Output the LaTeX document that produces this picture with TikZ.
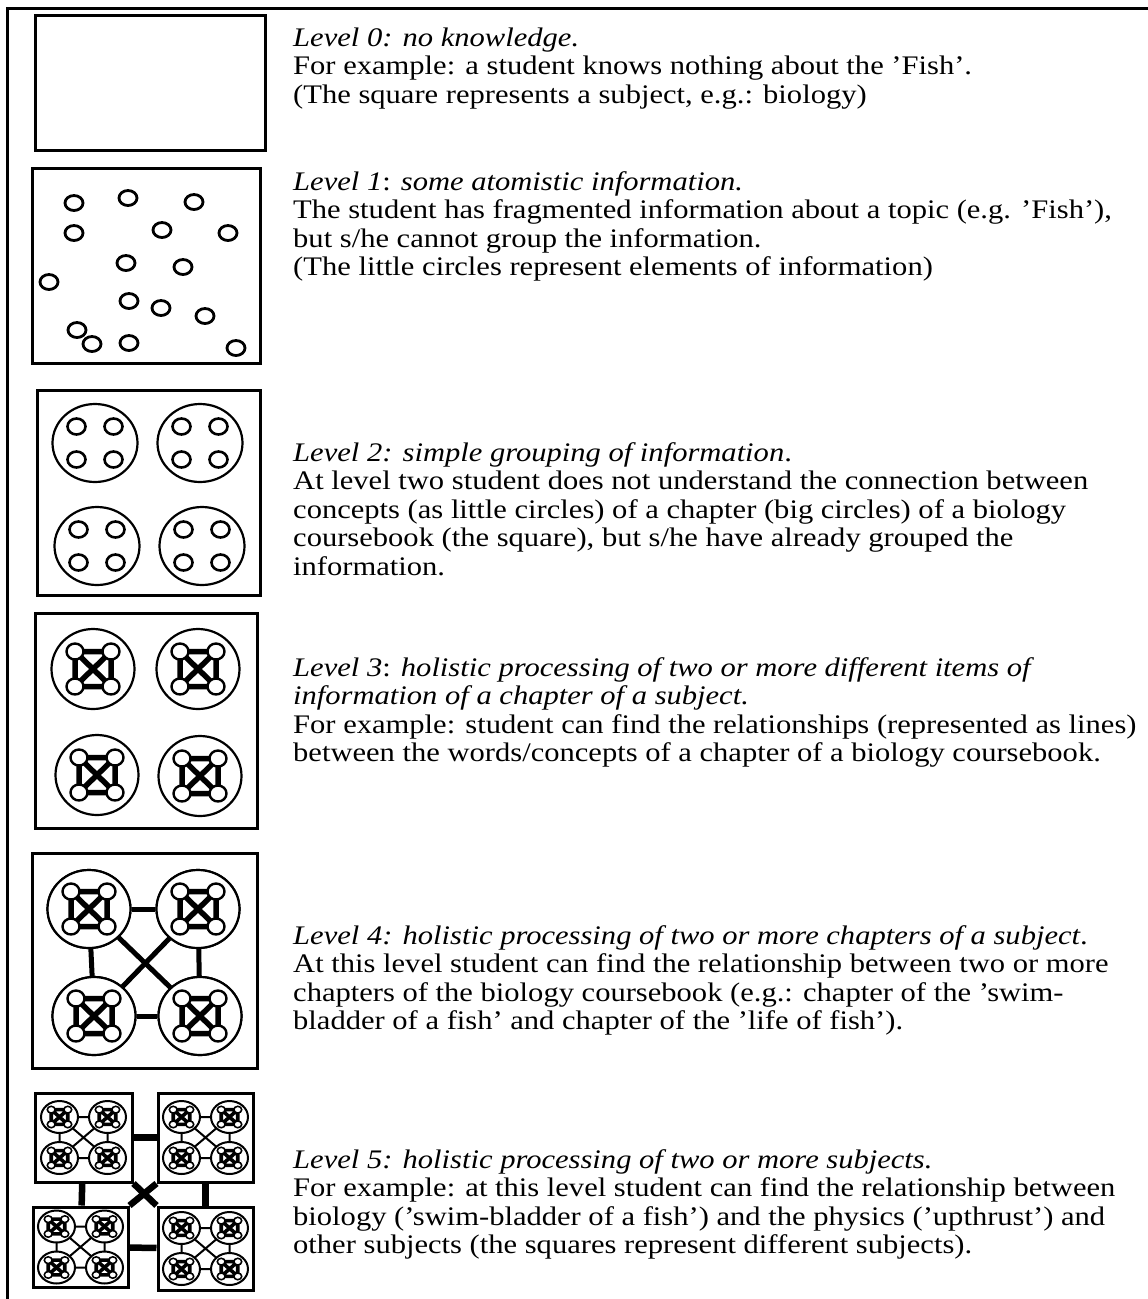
\documentclass[tikz,border=0pt]{standalone}
\usepackage{fontspec}
\setmainfont{Liberation Serif}[FakeStretch=1.14]
\usetikzlibrary{shapes.geometric}
\tikzset{
  frameline/.style={line width=3pt},
  boxline/.style={draw, line width=3pt},
  dot/.style={draw, line width=2.8pt},
  bigc/.style={ellipse, draw, line width=2.2pt, fill=white, inner sep=0pt},
  conn/.style={line width=5pt},
  subsq/.style={rectangle, draw, line width=3pt, fill=white, inner sep=0pt},
  bigconn/.style={line width=6.5pt},
  txt/.style={anchor=base west, inner sep=0pt, font=\fontsize{26.8}{28.5}\selectfont},
  pics/cell/.style={code={
    \draw[line width=#1*5.5pt] (-18,-17.5) rectangle (18,17.5)
      (-18,-17.5) -- (18,17.5) (18,-17.5) -- (-18,17.5);
    \foreach \p in {(-18,-17.5),(18,-17.5),(-18,17.5),(18,17.5)}
      \draw[fill=white, line width=#1*2.4pt] \p ellipse [x radius=8.5pt, y radius=8pt];
  }},
  pics/grp/.style={code={
    \foreach \p in {(-18.5,-16.5),(18.5,-16.5),(-18.5,16.5),(18.5,16.5)}
      \draw[line width=2.6pt] \p ellipse [x radius=9pt, y radius=8pt];
  }},
  pics/minicluster/.style={code={
    \draw[line width=2pt] (-24,-20.5) -- (24,-20.5) (-24,20.5) -- (24,20.5)
      (-24,-20.5) -- (-24,20.5) (24,-20.5) -- (24,20.5)
      (-24,-20.5) -- (24,20.5) (24,-20.5) -- (-24,20.5);
    \foreach \p in {(-24,-20.5),(24,-20.5),(-24,20.5),(24,20.5)} {
      \draw[fill=white, line width=2pt] \p ellipse [x radius=18.5pt, y radius=16pt];
      \pic[xscale=0.46, yscale=0.42] at \p {cell=0.65};
    }
  }}
}
\begin{document}
\begin{tikzpicture}[x=1pt,y=-1pt]
\useasboundingbox (0,0) rectangle (1148,1299);
\fill[white] (0,0) rectangle (1148,1299);
% frame
\draw[frameline] (7,1299) -- (7,8) -- (1148,8);

% ---------- Level 0
\draw[boxline] (35,15) rectangle (265,150);
\node[txt] (t0a) at (293,46) {\textit{Level 0: no knowledge.}};
\node[txt] (t0b) at (293,74.5) {For example: a student knows nothing about the ’Fish’.};
\node[txt] (t0c) at (293,103) {(The square represents a subject, e.g.: biology)};

% ---------- Level 1
\draw[boxline] (32,168) rectangle (260,363);
\foreach \p in {(74,203),(128,198),(194,202),(74,233),(162,230),(228,233),
  (126,263),(183,267),(49,282),(129,301),(161,308),(205,316),(77,330),(92,344),(129,343),(236,348)}
  \draw[dot] \p ellipse [x radius=9pt, y radius=7.5pt];
\node[txt] (t1a) at (293,190) {\textit{Level 1}: \textit{some atomistic information.}};
\node[txt] (t1b) at (293,218.5) {The student has fragmented information about a topic (e.g. ’Fish’),};
\node[txt] (t1c) at (293,247) {but s/he cannot group the information.};
\node[txt] (t1d) at (293,275.5) {(The little circles represent elements of information)};

% ---------- Level 2
\draw[boxline] (37,390) rectangle (260,595);
\foreach \n/\x/\y in {c21/95/443, c22/200/443, c23/97/546, c24/202/546} {
  \node[bigc, minimum width=85pt, minimum height=78pt] (\n) at (\x,\y) {};
  \pic at (\n) {grp};
}
\node[txt] (t2a) at (293,461) {\textit{Level 2: simple grouping of information}.};
\node[txt] (t2b) at (293,489.5) {At level two student does not understand the connection between};
\node[txt] (t2c) at (293,518) {concepts (as little circles) of a chapter (big circles) of a biology};
\node[txt] (t2d) at (293,546.5) {coursebook (the square), but s/he have already grouped the};
\node[txt] (t2e) at (293,575) {information.};

% ---------- Level 3
\draw[boxline] (35,613) rectangle (257,828);
\foreach \n/\x/\y in {c31/93/669, c32/198/669, c33/97/775, c34/200/776} {
  \node[bigc, minimum width=83pt, minimum height=80pt] (\n) at (\x,\y) {};
  \pic at (\n) {cell=1};
}
\node[txt] (t3a) at (293,676) {\textit{Level 3}: \textit{holistic processing of two or more different items of}};
\node[txt] (t3b) at (293,704.5) {\textit{information of a chapter of a subject.}};
\node[txt] (t3c) at (293,733) {For example: student can find the relationships (represented as lines)};
\node[txt] (t3d) at (293,761.5) {between the words/concepts of a chapter of a biology coursebook.};

% ---------- Level 4
\draw[boxline] (32,853) rectangle (257,1068);
\node[bigc, minimum width=83pt, minimum height=78pt] (c41) at (89,909) {};
\node[bigc, minimum width=83pt, minimum height=78pt] (c42) at (198,909) {};
\node[bigc, minimum width=83pt, minimum height=78pt] (c43) at (94,1016) {};
\node[bigc, minimum width=83pt, minimum height=78pt] (c44) at (200,1016) {};
\draw[conn] (c41) -- (c42);
\draw[conn] (c43) -- (c44);
\draw[conn] (c41) -- (c43);
\draw[conn] (c42) -- (c44);
\draw[conn] (c41) -- (c44);
\draw[conn] (c42) -- (c43);
\foreach \n in {c41,c42,c43,c44} {
  \node[bigc, minimum width=83pt, minimum height=78pt] at (\n) {};
  \pic at (\n) {cell=1};
}
\node[txt] (t4a) at (293,944) {\textit{Level 4: holistic processing of two or more chapters of a subject}.};
\node[txt] (t4b) at (293,972.5) {At this level student can find the relationship between two or more};
\node[txt] (t4c) at (293,1001) {chapters of the biology coursebook (e.g.: chapter of the ’swim-};
\node[txt] (t4d) at (293,1029.5) {bladder of a fish’ and chapter of the ’life of fish’).};

% ---------- Level 5
\node[subsq, minimum width=97pt, minimum height=89pt] (s1) at (83.5,1137.5) {};
\node[subsq, minimum width=95pt, minimum height=89pt] (s2) at (205.5,1137.5) {};
\node[subsq, minimum width=95pt, minimum height=80pt] (s3) at (80.5,1247) {};
\node[subsq, minimum width=95pt, minimum height=83pt] (s4) at (205.5,1248.5) {};
\draw[bigconn] (s1) -- (s2);
\draw[bigconn] (s3) -- (s4);
\draw[bigconn] (s1) -- (s3);
\draw[bigconn] (s2) -- (s4);
\draw[bigconn] (s1.south east) -- (s4.north west);
\draw[bigconn] (s2.south west) -- (s3.north east);
\foreach \n in {s1,s2,s3,s4} {
  \pic at (\n) {minicluster};
}
\node[txt] (t5a) at (293,1168) {\textit{Level 5: holistic processing of two or more subjects.}};
\node[txt] (t5b) at (293,1196.5) {For example: at this level student can find the relationship between};
\node[txt] (t5c) at (293,1225) {biology (’swim-bladder of a fish’) and the physics (’upthrust’) and};
\node[txt] (t5d) at (293,1253.5) {other subjects (the squares represent different subjects).};
\end{tikzpicture}
\end{document}
